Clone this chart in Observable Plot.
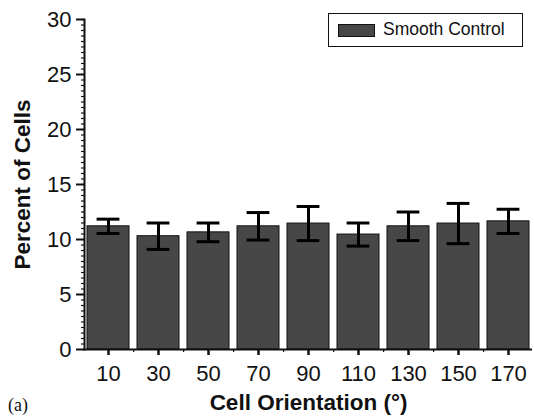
<!DOCTYPE html>
<html>
<head>
<meta charset="utf-8">
<script src="https://cdn.jsdelivr.net/npm/d3@7"></script>
<script src="https://cdn.jsdelivr.net/npm/@observablehq/plot@0.6"></script>
<style>
  html, body { margin: 0; padding: 0; background: #fff; }
  #wrap { position: relative; width: 534px; height: 416px; font-family: "Liberation Sans", Arial, sans-serif; }
  #legend { position: absolute; left: 328px; top: 13px; width: 193px; height: 32px; border: 1.5px solid #111; background: #fff; box-sizing: content-box; }
  #legend .sw { position: absolute; left: 9px; top: 10px; width: 35px; height: 11px; background: #474747; border: 1px solid #111; }
  #legend .lb { position: absolute; left: 54px; top: 5px; font-size: 17.5px; color: #111; white-space: nowrap; }
  #panel { position: absolute; left: 8px; top: 395px; font-family: "Liberation Serif", "DejaVu Serif", serif; font-size: 18px; color: #111; }
</style>
</head>
<body>
<div id="wrap"></div>
<script>
const categories = ["10", "30", "50", "70", "90", "110", "130", "150", "170"];
const means = [11.2, 10.3, 10.65, 11.2, 11.45, 10.45, 11.2, 11.45, 11.65];
const errors = [0.65, 1.2, 0.85, 1.25, 1.55, 1.05, 1.3, 1.83, 1.1];
const yTicks = [0, 5, 10, 15, 20, 25, 30];
const seriesName = "Smooth Control";
const xTitle = "Cell Orientation (°)";
const yTitle = "Percent of Cells";
const panelLabel = "(a)";

const data = categories.map((c, i) => ({cat: c, mean: means[i], lo: means[i] - errors[i], hi: means[i] + errors[i]}));
const minorY = d3.range(0, 30.01, 0.5);

const W = 534, H = 416, mL = 84, mR = 2, mT = 19, mB = 67;
const pIn = 0.16, pOut = 0.04;
const step = (W - mL - mR) / (categories.length - pIn + 2 * pOut);
const bandW = step * (1 - pIn);
const capW = 23;

const chart = Plot.plot({
  width: W, height: H,
  marginLeft: mL, marginRight: mR, marginTop: mT, marginBottom: mB,
  style: {fontFamily: "'Liberation Sans', Arial, sans-serif", color: "#111", background: "#fff"},
  x: {domain: categories, paddingInner: pIn, paddingOuter: pOut, label: null},
  y: {domain: [0, 30], label: null},
  marks: [
    Plot.barY(data, {x: "cat", y: "mean", fill: "#474747", stroke: "#111", strokeWidth: 1}),
    Plot.ruleX(data, {x: "cat", y1: "lo", y2: "hi", stroke: "#000", strokeWidth: 3}),
    Plot.tickY(data, {x: "cat", y: "hi", stroke: "#000", strokeWidth: 3, insetLeft: (bandW - capW) / 2, insetRight: (bandW - capW) / 2}),
    Plot.tickY(data, {x: "cat", y: "lo", stroke: "#000", strokeWidth: 3, insetLeft: (bandW - capW) / 2, insetRight: (bandW - capW) / 2}),
    Plot.axisY(minorY, {tickSize: 3, tickFormat: () => "", label: null, strokeWidth: 1.2}),
    Plot.axisY(yTicks, {tickSize: 8, tickPadding: 5, fontSize: 22, label: null, strokeWidth: 2}),
    Plot.axisX({tickSize: 6, tickPadding: 10, fontSize: 22, label: null, strokeWidth: 2.5}),
    Plot.axisX(categories.slice(0, -1), {tickSize: 3, tickFormat: () => "", label: null, dx: step / 2, strokeWidth: 1.2}),
    Plot.ruleY([0], {stroke: "#111", strokeWidth: 2}),
    Plot.frame({anchor: "left", stroke: "#111", strokeWidth: 2}),
    Plot.text([xTitle], {frameAnchor: "bottom", dy: 53, lineAnchor: "middle", textAnchor: "middle", fontSize: 22.5, fontWeight: "bold", fill: "#111"}),
    Plot.text([yTitle], {frameAnchor: "left", dx: -62, rotate: -90, textAnchor: "middle", lineAnchor: "middle", fontSize: 22.5, fontWeight: "bold", fill: "#111"})
  ]
});

const wrap = document.getElementById("wrap");
wrap.appendChild(chart);
const leg = document.createElement("div");
leg.id = "legend";
leg.innerHTML = '<div class="sw"></div><div class="lb"></div>';
leg.querySelector(".lb").textContent = seriesName;
wrap.appendChild(leg);
const pl = document.createElement("div");
pl.id = "panel";
pl.textContent = panelLabel;
wrap.appendChild(pl);
</script>
</body>
</html>
